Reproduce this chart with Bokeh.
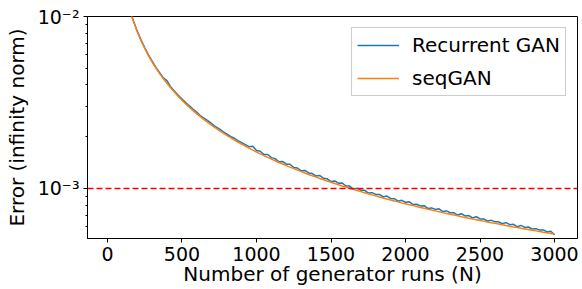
from bokeh.plotting import figure
from bokeh.models import Range1d, FixedTicker, Span, Legend, LegendItem
from bokeh.embed import file_html
from bokeh.resources import INLINE

# Number of generator runs (shared x values)
runs = [100, 125, 150, 175, 200, 225, 250, 275, 300, 325, 350, 375, 400, 425, 450, 475,
        500, 525, 550, 575, 600, 625, 650, 675, 700, 725, 750, 775, 800, 825, 850, 875,
        900, 925, 950, 975, 1000, 1025, 1050, 1075, 1100, 1125, 1150, 1175, 1200, 1225, 1250, 1275,
        1300, 1325, 1350, 1375, 1400, 1425, 1450, 1475, 1500, 1525, 1550, 1575, 1600, 1625, 1650, 1675,
        1700, 1725, 1750, 1775, 1800, 1825, 1850, 1875, 1900, 1925, 1950, 1975, 2000, 2025, 2050, 2075,
        2100, 2125, 2150, 2175, 2200, 2225, 2250, 2275, 2300, 2325, 2350, 2375, 2400, 2425, 2450, 2475,
        2500, 2525, 2550, 2575, 2600, 2625, 2650, 2675, 2700, 2725, 2750, 2775, 2800, 2825, 2850, 2875,
        2900, 2925, 2950, 2975, 3000]

# Recurrent GAN (blue, noisy)
rgan_err = [0.01640, 0.01310, 0.01092, 0.00938, 0.00822, 0.00731, 0.00660, 0.00598,
            0.00550, 0.00506, 0.00472, 0.00440, 0.00422, 0.00389, 0.00368, 0.00348,
            0.00331, 0.00316, 0.00302, 0.00289, 0.00277, 0.00264, 0.00256, 0.00247,
            0.00238, 0.00229, 0.00222, 0.00214, 0.00208, 0.00201, 0.00196, 0.00190,
            0.00185, 0.00180, 0.00175, 0.00176, 0.001663, 0.001646, 0.001575, 0.001577,
            0.001512, 0.001492, 0.001431, 0.001436, 0.001385, 0.001384, 0.001324, 0.001316,
            0.001267, 0.001273, 0.001231, 0.001221, 0.001181, 0.001190, 0.001146, 0.001138,
            0.001098, 0.001106, 0.001073, 0.001076, 0.001034, 0.001033, 0.000988, 0.001002,
            0.000978, 0.000978, 0.000940, 0.000946, 0.000924, 0.000924, 0.000894, 0.000904,
            0.000875, 0.000872, 0.000844, 0.000854, 0.000831, 0.000837, 0.000807, 0.000810,
            0.000792, 0.000794, 0.000766, 0.000771, 0.000756, 0.000762, 0.000735, 0.000741,
            0.000723, 0.000722, 0.000701, 0.000713, 0.000693, 0.000696, 0.000675, 0.000685,
            0.000665, 0.000665, 0.000645, 0.000655, 0.000640, 0.000640, 0.000624, 0.000633,
            0.000616, 0.000619, 0.000599, 0.000610, 0.000594, 0.000597, 0.000581, 0.000584,
            0.000573, 0.000574, 0.000559, 0.000564, 0.000538]

# seqGAN (orange, smooth)
seq_err = [0.016300, 0.013040, 0.010867, 0.009314, 0.008150, 0.007244, 0.006520, 0.005927,
           0.005433, 0.005015, 0.004657, 0.004347, 0.004075, 0.003835, 0.003622, 0.003432,
           0.003260, 0.003105, 0.002964, 0.002835, 0.002717, 0.002608, 0.002508, 0.002415,
           0.002329, 0.002248, 0.002173, 0.002103, 0.002038, 0.001976, 0.001918, 0.001863,
           0.001811, 0.001762, 0.001716, 0.001672, 0.001630, 0.001590, 0.001552, 0.001516,
           0.001482, 0.001449, 0.001417, 0.001387, 0.001358, 0.001331, 0.001304, 0.001278,
           0.001254, 0.001230, 0.001207, 0.001185, 0.001164, 0.001144, 0.001124, 0.001105,
           0.001087, 0.001069, 0.001052, 0.001035, 0.001019, 0.001003, 0.000988, 0.000973,
           0.000959, 0.000945, 0.000931, 0.000918, 0.000906, 0.000893, 0.000881, 0.000869,
           0.000858, 0.000847, 0.000836, 0.000825, 0.000815, 0.000805, 0.000795, 0.000786,
           0.000776, 0.000767, 0.000758, 0.000749, 0.000741, 0.000733, 0.000724, 0.000716,
           0.000709, 0.000701, 0.000694, 0.000686, 0.000679, 0.000672, 0.000665, 0.000659,
           0.000652, 0.000646, 0.000639, 0.000633, 0.000627, 0.000621, 0.000615, 0.000609,
           0.000604, 0.000598, 0.000593, 0.000587, 0.000582, 0.000577, 0.000572, 0.000567,
           0.000562, 0.000557, 0.000553, 0.000548, 0.000543]

threshold = 1e-3
x_ticks = [0, 500, 1000, 1500, 2000, 2500, 3000]
y_ticks = [1e-3, 1e-2]
y_tick_labels = {1e-3: "10⁻³", 1e-2: "10⁻²"}
y_minor = [6e-4, 7e-4, 8e-4, 9e-4, 2e-3, 3e-3, 4e-3, 5e-3, 6e-3, 7e-3, 8e-3, 9e-3]

FONT = "DejaVu Sans"

p = figure(width=582, height=289, output_backend="svg", toolbar_location=None,
           y_axis_type="log",
           x_range=Range1d(-134, 3154), y_range=Range1d(5.12e-4, 1e-2),
           min_border_left=87, min_border_right=5, min_border_top=16, min_border_bottom=51)
p.grid.visible = False
p.outline_line_color = "black"
p.outline_line_width = 1
p.background_fill_color = "white"
p.border_fill_color = "white"

p.xaxis.ticker = FixedTicker(ticks=x_ticks)
p.yaxis.ticker = FixedTicker(ticks=y_ticks, minor_ticks=y_minor)
p.yaxis.major_label_overrides = y_tick_labels

for ax in [p.xaxis[0], p.yaxis[0]]:
    ax.axis_line_color = "black"
    ax.major_tick_in = 0
    ax.major_tick_out = 4
    ax.minor_tick_in = 0
    ax.minor_tick_out = 2
    ax.major_label_text_font = FONT
    ax.major_label_text_font_size = "19px"
    ax.major_label_text_color = "black"
    ax.axis_label_text_font = FONT
    ax.axis_label_text_font_size = "20px"
    ax.axis_label_text_font_style = "normal"
    ax.axis_label_text_color = "black"
p.xaxis.minor_tick_out = 0
p.xaxis.major_label_standoff = 4
p.xaxis.axis_label_standoff = -2
p.yaxis.major_label_standoff = 4
p.yaxis.axis_label_standoff = 6
p.xaxis.axis_label = "Number of generator runs (N)"
p.yaxis.axis_label = "Error (infinity norm)"

p.add_layout(Span(location=threshold, dimension="width", line_color="red",
                  line_dash="6 3", line_width=1.5))

r1 = p.line(runs, rgan_err, line_color="#1f77b4", line_width=1.5)
r2 = p.line(runs, seq_err, line_color="#ff7f0e", line_width=1.5)

legend = Legend(items=[LegendItem(label="Recurrent GAN", renderers=[r1]),
                       LegendItem(label="seqGAN", renderers=[r2])],
                location="top_right")
legend.label_text_font = FONT
legend.label_text_font_size = "20px"
legend.label_text_color = "black"
legend.label_height = 22
legend.glyph_height = 22
legend.border_line_color = "#cccccc"
legend.border_line_alpha = 1
legend.background_fill_alpha = 0.8
legend.glyph_width = 42
legend.label_standoff = 13
legend.padding = 5
legend.spacing = 9
legend.margin = 11
p.add_layout(legend)

open("out.html", "w").write(file_html(p, INLINE))
